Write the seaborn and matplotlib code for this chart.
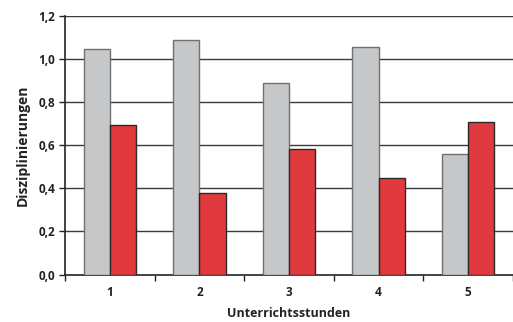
import matplotlib
matplotlib.use("Agg")
import matplotlib.pyplot as plt
import seaborn as sns
import pandas as pd
from matplotlib.ticker import FixedLocator, FuncFormatter

# Disciplinary measures per lesson, two groups
stunden = ["1", "2", "3", "4", "5"]
gruppe_a = [1.045, 1.09, 0.89, 1.056, 0.56]
gruppe_b = [0.695, 0.38, 0.582, 0.446, 0.706]
y_ticks = [0.0, 0.2, 0.4, 0.6, 0.8, 1.0, 1.2]

df = pd.DataFrame({
    "Stunde": stunden * 2,
    "Wert": gruppe_a + gruppe_b,
    "Gruppe": ["A"] * len(stunden) + ["B"] * len(stunden),
})

sns.set_theme(style="white")
plt.rcParams["font.family"] = ["Open Sans", "DejaVu Sans"]

fig = plt.figure(figsize=(5.13, 3.22), dpi=100)
ax = fig.add_axes([0.1267, 0.1475, 0.8733, 0.8025])

palette = {"A": "#c6c7c9", "B": "#e03a3f"}
sns.barplot(data=df, x="Stunde", y="Wert", hue="Gruppe", order=stunden,
            hue_order=["A", "B"], palette=palette, width=0.585,
            saturation=1, legend=False, ax=ax, zorder=3)

edge = {"A": "#6f7072", "B": "#2a2a2a"}
for container, grp in zip(ax.containers, ["A", "B"]):
    for bar in container:
        bar.set_edgecolor(edge[grp])
        bar.set_linewidth(1.0)

ax.set_ylim(0, 1.2)
ax.set_xlim(-0.5, 4.478)
ax.yaxis.set_major_locator(FixedLocator(y_ticks))
ax.yaxis.set_major_formatter(FuncFormatter(lambda v, p: f"{v:.1f}".replace(".", ",")))

# Grid lines across the plot
for v in y_ticks[1:]:
    ax.axhline(v, color="#3a3a3a", lw=1.0, zorder=1)

# Category labels centred, tick marks on category boundaries
ax.set_xticks([i - 0.5 for i in range(len(stunden) + 1)])
ax.set_xticklabels([])
ax.set_xticks(range(len(stunden)), minor=True)
ax.set_xticklabels(stunden, minor=True, fontsize=8.5, fontweight="bold", color="#222222")
ax.tick_params(axis="x", which="major", direction="out", length=4, width=1, color="#222222", bottom=True)
ax.tick_params(axis="x", which="minor", length=0, pad=8)
ax.tick_params(axis="y", direction="out", length=4, width=1, color="#222222", left=True,
               labelsize=8.5, pad=3)
for lbl in ax.get_yticklabels():
    lbl.set_fontweight("bold")
    lbl.set_color("#222222")

for s in ["top", "right"]:
    ax.spines[s].set_visible(False)
for s in ["left", "bottom"]:
    ax.spines[s].set_color("#222222")
    ax.spines[s].set_linewidth(1.2)

ax.set_xlabel("Unterrichtsstunden", fontsize=9, fontweight="bold", color="#222222", labelpad=6)
ax.set_ylabel("Disziplinierungen", fontsize=10, fontweight="bold", color="#222222", labelpad=6)

fig.savefig("out.png", dpi=100)
